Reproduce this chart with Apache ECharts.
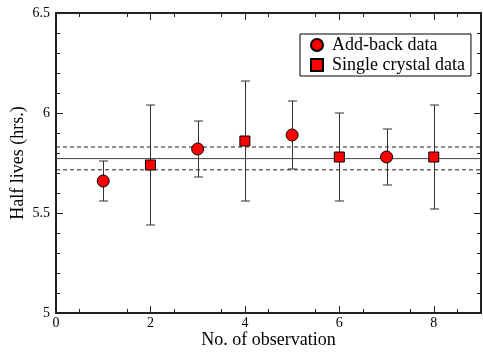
<!DOCTYPE html>
<html>
<head>
<meta charset="utf-8">
<script src="https://cdn.jsdelivr.net/npm/echarts@6/dist/echarts.min.js"></script>
<style>html,body{margin:0;padding:0;background:#fff}#c{width:483px;height:354px}</style>
</head>
<body>
<div id="c"></div>
<script>
// Data
var addBackX = [1, 3, 5, 7];
var addBackY = [5.66, 5.82, 5.89, 5.78];
var addBackErr = [0.10, 0.14, 0.17, 0.14];
var singleX = [2, 4, 6, 8];
var singleY = [5.74, 5.86, 5.78, 5.78];
var singleErr = [0.30, 0.30, 0.22, 0.26];
var meanValue = 5.772;
var meanUpper = 5.830;
var meanLower = 5.716;
var xTicks = [0, 2, 4, 6, 8];
var yTicks = [5, 5.5, 6, 6.5];

var FONT = 'Liberation Serif';
function pts(xs, ys) { return xs.map(function (x, i) { return [x, ys[i]]; }); }
function errs(xs, ys, es) { return xs.map(function (x, i) { return [x, ys[i] - es[i], ys[i] + es[i]]; }); }
var errData = errs(addBackX, addBackY, addBackErr).concat(errs(singleX, singleY, singleErr));

var chart = echarts.init(document.getElementById('c'), null, { renderer: 'canvas' });
var axisCol = '#222';
var option = {
  animation: false,
  backgroundColor: '#fff',
  grid: { left: 56, right: 2, top: 13, bottom: 41, containLabel: false, outerBoundsMode: 'none' },
  legend: {
    orient: 'vertical',
    left: 300, top: 34,
    backgroundColor: '#fff',
    borderColor: '#000', borderWidth: 1,
    padding: [2, 6, 2, 10],
    itemGap: 2,
    itemWidth: 12, itemHeight: 12,
    textStyle: { fontFamily: FONT, fontSize: 18, color: '#000', padding: [0, 0, 0, 4], lineHeight: 18 },
    data: [
      { name: 'Add-back data', icon: 'circle' },
      { name: 'Single crystal data', icon: 'rect' }
    ]
  },
  xAxis: [{
    type: 'value', min: 0, max: 9, interval: 1,
    name: 'No. of observation', nameLocation: 'middle', nameGap: 18, nameMoveOverlap: false,
    nameTextStyle: { fontFamily: FONT, fontSize: 18, color: '#000', verticalAlign: 'top' },
    axisLine: { onZero: false, lineStyle: { color: axisCol, width: 2 } },
    axisTick: { inside: true, length: 7, lineStyle: { color: axisCol, width: 1 },
      customValues: xTicks },
    minorTick: { show: true, splitNumber: 2, length: 4, lineStyle: { color: axisCol } },
    axisLabel: { fontFamily: FONT, fontSize: 14, color: '#000', margin: 3,
      customValues: xTicks, formatter: function (v) { return String(v); } },
    splitLine: { show: false }
  }, {
    type: 'value', min: 0, max: 9, interval: 1, position: 'top',
    axisLine: { onZero: false, lineStyle: { color: axisCol, width: 2 } },
    axisTick: { inside: true, length: 7, lineStyle: { color: axisCol }, customValues: xTicks },
    minorTick: { show: true, splitNumber: 2, length: 4, lineStyle: { color: axisCol } },
    axisLabel: { show: false }, splitLine: { show: false }
  }],
  yAxis: [{
    type: 'value', min: 5, max: 6.5, interval: 0.5,
    name: 'Half lives (hrs.)', nameLocation: 'middle', nameGap: 29, nameMoveOverlap: false,
    nameTextStyle: { fontFamily: FONT, fontSize: 18, color: '#000' },
    axisLine: { show: true, onZero: false, lineStyle: { color: axisCol, width: 2 } },
    axisTick: { show: true, inside: true, length: 7, lineStyle: { color: axisCol } },
    minorTick: { show: true, splitNumber: 5, length: 4, lineStyle: { color: axisCol } },
    axisLabel: { fontFamily: FONT, fontSize: 14, color: '#000', margin: 6,
      customValues: yTicks, formatter: function (v) { return String(+v.toFixed(1)); } },
    splitLine: { show: false }
  }, {
    type: 'value', min: 5, max: 6.5, interval: 0.5, position: 'right',
    axisLine: { show: true, onZero: false, lineStyle: { color: axisCol, width: 2 } },
    axisTick: { show: true, inside: true, length: 7, lineStyle: { color: axisCol } },
    minorTick: { show: true, splitNumber: 5, length: 4, lineStyle: { color: axisCol } },
    axisLabel: { show: false }, splitLine: { show: false }
  }],
  series: [
    {
      type: 'line', name: 'mean', silent: true, symbol: 'none',
      data: [[0, meanValue], [9, meanValue]],
      lineStyle: { color: '#444', width: 1 }, z: 1
    },
    {
      type: 'line', name: 'upper', silent: true, symbol: 'none',
      data: [[0, meanUpper], [9, meanUpper]],
      lineStyle: { color: '#222', width: 1, type: [4, 3] }, z: 1
    },
    {
      type: 'line', name: 'lower', silent: true, symbol: 'none',
      data: [[0, meanLower], [9, meanLower]],
      lineStyle: { color: '#222', width: 1, type: [4, 3] }, z: 1
    },
    {
      type: 'custom', name: 'err', silent: true, z: 2,
      data: errData,
      renderItem: function (params, api) {
        var x = api.value(0);
        var lo = api.coord([x, api.value(1)]);
        var hi = api.coord([x, api.value(2)]);
        var cx = Math.round(lo[0]) + 0.5;
        var w = 4.5;
        var st = { stroke: '#333', lineWidth: 1 };
        return { type: 'group', children: [
          { type: 'line', shape: { x1: cx, y1: lo[1], x2: cx, y2: hi[1] }, style: st },
          { type: 'line', shape: { x1: cx - w, y1: lo[1], x2: cx + w, y2: lo[1] }, style: st },
          { type: 'line', shape: { x1: cx - w, y1: hi[1], x2: cx + w, y2: hi[1] }, style: st }
        ] };
      }
    },
    {
      type: 'scatter', name: 'Add-back data', symbol: 'circle', symbolSize: 12,
      data: pts(addBackX, addBackY), z: 3,
      itemStyle: { color: '#ff0000', borderColor: '#000', borderWidth: 1, opacity: 1 }
    },
    {
      type: 'scatter', name: 'Single crystal data', symbol: 'rect', symbolSize: 10,
      data: pts(singleX, singleY), z: 3,
      itemStyle: { color: '#ff0000', borderColor: '#000', borderWidth: 1, opacity: 1 }
    }
  ]
};
chart.setOption(option);
</script>
</body>
</html>
